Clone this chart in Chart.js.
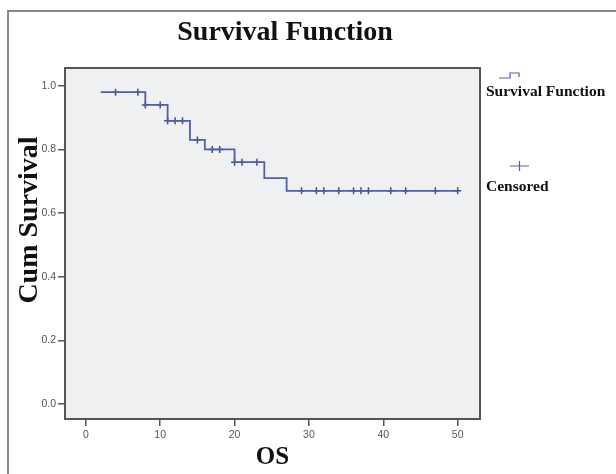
<!DOCTYPE html>
<html>
<head>
<meta charset="utf-8">
<script src="https://cdn.jsdelivr.net/npm/chart.js@4"></script>
<style>
  html, body { margin: 0; padding: 0; background: #fff; }
  #wrap { width: 616px; height: 474px; }
</style>
</head>
<body>
<div id="wrap"><canvas id="kmChart" width="616" height="474"></canvas></div>
<script>
// step points of the survival curve (time, cumulative survival)
const stepTimes = [2, 8, 11, 14, 16, 20, 24, 27, 50];
const stepSurv = [0.98, 0.94, 0.89, 0.83, 0.80, 0.76, 0.71, 0.67, 0.67];

// censored observations
const censorTimes = [4, 7, 8, 10, 11, 12, 13, 15, 17, 18, 20, 21, 23, 29, 31, 32, 34, 36, 37, 38, 41, 43, 47, 50];
const censorSurv = [0.98, 0.98, 0.94, 0.94, 0.89, 0.89, 0.89, 0.83, 0.80, 0.80, 0.76, 0.76, 0.76,
  0.67, 0.67, 0.67, 0.67, 0.67, 0.67, 0.67, 0.67, 0.67, 0.67, 0.67];

const xTicks = [0, 10, 20, 30, 40, 50];
const yTicks = [0, 0.2, 0.4, 0.6, 0.8, 1.0];

const lineColor = "#52609f";
const serif = "'Liberation Serif', 'Times New Roman', serif";
const sans = "'Liberation Sans', Arial, sans-serif";

const decor = {
  id: "decor",
  beforeDraw(chart) {
    const { ctx, chartArea: a } = chart;
    ctx.save();
    ctx.fillStyle = "#eef0f2";
    ctx.fillRect(a.left, a.top, a.right - a.left, a.bottom - a.top);
    ctx.restore();
  },
  afterDraw(chart) {
    const { ctx, chartArea: a } = chart;
    ctx.save();
    // plot frame
    ctx.strokeStyle = "#555";
    ctx.lineWidth = 2;
    ctx.strokeRect(a.left, a.top, a.right - a.left, a.bottom - a.top);
    // outer figure frame (top and left only)
    ctx.strokeStyle = "#888";
    ctx.beginPath();
    ctx.moveTo(8, 474);
    ctx.lineTo(8, 11);
    ctx.lineTo(616, 11);
    ctx.stroke();

    ctx.fillStyle = "#111";
    ctx.textAlign = "center";
    ctx.textBaseline = "middle";
    ctx.font = "bold 28px " + serif;
    ctx.fillText("Survival Function", 285, 33);
    ctx.font = "bold 25px " + serif;
    ctx.fillText("OS", (a.left + a.right) / 2, 458);
    ctx.save();
    ctx.translate(30, 220);
    ctx.rotate(-Math.PI / 2);
    ctx.font = "bold 28px " + serif;
    ctx.fillText("Cum Survival", 0, 0);
    ctx.restore();

    // legend
    ctx.strokeStyle = lineColor;
    ctx.lineWidth = 1.2;
    ctx.beginPath();
    ctx.moveTo(499, 78);
    ctx.lineTo(510, 78);
    ctx.lineTo(510, 73);
    ctx.lineTo(519, 73);
    ctx.lineTo(519, 77);
    ctx.stroke();
    ctx.beginPath();
    ctx.moveTo(510, 166);
    ctx.lineTo(529, 166);
    ctx.moveTo(519.5, 161);
    ctx.lineTo(519.5, 171);
    ctx.stroke();
    ctx.textAlign = "left";
    ctx.font = "bold 15.5px " + serif;
    ctx.fillText("Survival Function", 486, 92);
    ctx.fillText("Censored", 486, 187);
    ctx.restore();
  }
};

new Chart(document.getElementById("kmChart"), {
  type: "scatter",
  data: {
    datasets: [{
      label: "Survival Function",
      data: stepTimes.map((t, i) => ({ x: t, y: stepSurv[i] })),
      showLine: true,
      stepped: true,
      borderColor: lineColor,
      borderWidth: 1.8,
      pointRadius: 0
    }, {
      label: "Censored",
      data: censorTimes.map((t, i) => ({ x: t, y: censorSurv[i] })),
      showLine: false,
      pointStyle: "cross",
      pointRadius: 3.5,
      borderColor: "#3f4d8f",
      borderWidth: 1.5
    }]
  },
  options: {
    responsive: false,
    animation: false,
    layout: { padding: { left: 0, top: 68, right: 136, bottom: 25 } },
    plugins: { legend: { display: false }, tooltip: { enabled: false } },
    scales: {
      x: {
        type: "linear",
        min: -2.8,
        max: 53,
        afterBuildTicks: s => { s.ticks = xTicks.map(v => ({ value: v })); },
        afterFit: s => { s.height = 30; },
        grid: { drawOnChartArea: false, drawTicks: true, tickLength: 7, color: "#555", lineWidth: 1.5 },
        border: { display: false },
        ticks: { color: "#555", font: { family: sans, size: 10.5 }, padding: 3 }
      },
      y: {
        type: "linear",
        min: -0.047,
        max: 1.056,
        afterBuildTicks: s => { s.ticks = yTicks.map(v => ({ value: v })); },
        afterFit: s => { s.width = 65; },
        grid: { drawOnChartArea: false, drawTicks: true, tickLength: 7, color: "#555", lineWidth: 1.5 },
        border: { display: false },
        ticks: { color: "#555", font: { family: sans, size: 10.5 }, padding: 2, callback: v => v.toFixed(1) }
      }
    }
  },
  plugins: [decor]
});
</script>
</body>
</html>
